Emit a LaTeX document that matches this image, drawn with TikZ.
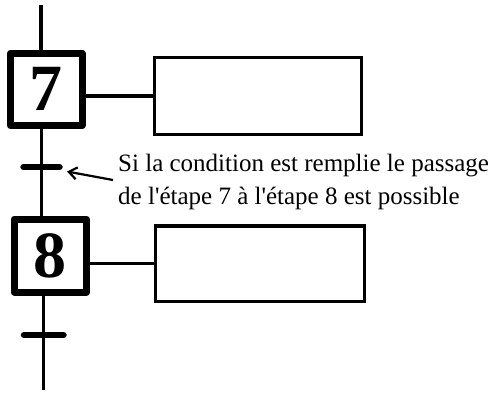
\documentclass[tikz,border=0pt]{standalone}
\usepackage{fontspec}
\setmainfont{Liberation Serif}[Ligatures=TeXOff]
\usetikzlibrary{arrows.meta,calc}
\begin{document}
\begin{tikzpicture}[x=1pt,y=-1pt,
  stepbox/.style={draw,line width=7pt,line join=round,inner sep=0pt,
    font=\fontsize{66}{66}\selectfont\bfseries},
  actbox/.style={draw,line width=3.3pt,inner sep=0pt,minimum width=207.5pt,minimum height=76.5pt},
  flow/.style={line width=3.6pt},
  link/.style={line width=3.3pt},
  trans/.style={line width=6.5pt,line cap=round},
  note/.style={font=\fontsize{25}{34}\selectfont,inner sep=0pt,anchor=base west}]
\useasboundingbox (0,0) rectangle (493,392);
\node[stepbox,minimum width=71.5pt,minimum height=72.5pt] (s7) at (46.25,89.25) {7};
\node[stepbox,minimum width=72.5pt,minimum height=73pt] (s8) at (50.25,255.5) {8};
\node[actbox] (a7) at (258,96) {};
\node[actbox,minimum width=208.5pt,minimum height=75.7pt] (a8) at (260,263.8) {};
\coordinate (top) at (41,5);
\coordinate (t1) at (41.5,167);
\coordinate (t1w) at (23.5,167);
\coordinate (t1e) at (59.5,167);
\coordinate (t2) at (43.5,335);
\coordinate (t2w) at (24,335);
\coordinate (t2e) at (63.5,335);
\coordinate (bot) at (43.5,390);
\draw[flow] (top) -- (top |- s7.north);
\draw[flow] (t1 |- s7.south) -- (t1) -- (t1 |- s8.north);
\draw[flow] (t2 |- s8.south) -- (t2) -- (bot);
\draw[trans] (t1w) -- (t1e);
\draw[trans] (t2w) -- (t2e);
\draw[link] (a7.west) -- (a7.west -| s7.east);
\draw[link] (a8.west) -- (a8.west -| s8.east);
\node[note] (n1) at (118,171.5) {Si la condition est remplie le passage};
\node[note] (n2) at (118,204.5) {de l'étape 7 à l'étape 8 est possible};
\coordinate (tail) at (113,180);
\coordinate (tip) at (67,171.5);
\draw[line width=2.2pt,-{Straight Barb[length=8pt,width=12pt]}] (tail) -- (tip);
\end{tikzpicture}
\end{document}
